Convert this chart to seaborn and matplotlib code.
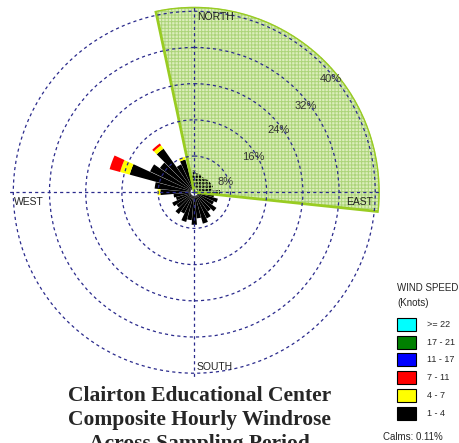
import numpy as np
import matplotlib
matplotlib.use("Agg")
import matplotlib.pyplot as plt
from matplotlib.patches import Rectangle
import seaborn as sns

# wind direction of each petal (degrees from north)
directions = [0, 10, 20, 30, 40, 50, 60, 70, 80, 90, 100, 110,
              120, 130, 140, 150, 160, 170, 180, 190, 200, 210, 220, 230,
              240, 250, 260, 270, 280, 290, 300, 310, 320, 330, 340, 350]

# percent of hours per speed class (knots)
speed_1_4 = [4.0, 3.4, 3.3, 3.0, 3.1, 3.2, 3.3, 3.5, 3.2, 4.9, 3.6, 4.6,
             4.0, 5.2, 4.4, 5.6, 6.4, 5.0, 6.4, 5.4, 6.0, 4.4, 5.1, 4.0,
             4.6, 3.4, 3.8, 6.7, 8.0, 14.0, 10.0, 8.5, 11.0, 6.0, 6.7, 3.0]
speed_4_7 = [0, 0, 0, 0, 0, 0, 0, 0, 0, 0, 0, 0,
             0, 0, 0, 0, 0, 0, 0, 0, 0, 0, 0, 0,
             0, 0, 0, 0.6, 0, 2.2, 0, 0, 0.9, 0, 0.6, 0]
speed_7_11 = [0, 0, 0, 0, 0, 0, 0, 0, 0, 0, 0, 0,
              0, 0, 0, 0, 0, 0, 0, 0, 0, 0, 0, 0,
              0, 0, 0, 0, 0, 2.4, 0, 0, 0.5, 0, 0, 0]

legend_labels = [">= 22", "17 - 21", "11 - 17", "7 - 11", "4 - 7", "1 - 4"]
legend_colors = ["#00ffff", "#008000", "#0000ff", "#ff0000", "#ffff00", "#000000"]

ring_values = [8, 16, 24, 32, 40]
ring_labels = ["8%", "16%", "24%", "32%", "40%"]
calms = "Calms: 0.11%"

# shaded sector (bearing start / end, reach in %)
sector_start = -12
sector_end = 96
sector_reach = 41

title_lines = ["Clairton Educational Center",
               "Composite Hourly Windrose",
               "Across Sampling Period"]

sns.set_theme(style="white")
plt.rcParams['font.family'] = ['Liberation Sans', 'DejaVu Sans']
plt.rcParams['hatch.linewidth'] = 0.7

W, H = 460, 443


def fx(px):
    return px / W


def fy(py):
    return 1 - py / H


fig = plt.figure(figsize=(W / 100, H / 100), dpi=100)
ax = fig.add_axes([0.0191, 0.1473, 0.8065, 0.8375], projection='polar')
ax.set_theta_zero_location('N')
ax.set_theta_direction(-1)
ax.set_ylim(0, sector_reach)

# shaded sector
sec_center = np.deg2rad((sector_start + sector_end) / 2)
sec_width = np.deg2rad(sector_end - sector_start)
ax.bar(sec_center, sector_reach, width=sec_width, bottom=0,
       color='#dcedbb', edgecolor='none', zorder=1)

# petals
theta = np.deg2rad(directions)
bottom = np.full(len(directions), 0.8)
for vals, col in [(speed_1_4, '#000000'), (speed_4_7, '#ffff00'), (speed_7_11, '#ff0000')]:
    vals = np.array(vals)
    ax.bar(theta, vals, width=np.deg2rad(9.5), bottom=bottom,
           color=col, edgecolor='none', zorder=3)
    bottom = bottom + vals

# hatch and outline of the sector over the petals
ax.bar(sec_center, sector_reach, width=sec_width, bottom=0, fill=False,
       hatch='+' * 5, edgecolor='#acd47a', linewidth=0, zorder=4)
ax.bar(sec_center, sector_reach, width=sec_width, bottom=0, fill=False,
       edgecolor='#99cc22', linewidth=2, zorder=5)

# grid
ax.set_xticks(np.deg2rad([0, 90, 180, 270]))
ax.set_xticklabels([])
ax.set_yticks(ring_values)
ax.set_yticklabels([])
ax.spines['polar'].set_visible(False)
ax.grid(True, color='#2a2a8c', linestyle=(0, (2.5, 2.5)), linewidth=0.9)
ax.xaxis.set_zorder(6)
ax.yaxis.set_zorder(6)

label_angles = [72, 58.7, 53.7, 52.2, 50.4]
for v, lab, ang in zip(ring_values, ring_labels, label_angles):
    ax.text(np.deg2rad(ang), v - 0.8, lab, ha='center', va='center',
            fontsize=8, color='#333333', zorder=7)

# compass labels
fig.text(fx(197.5), fy(17.5), "NORTH", ha='left', va='center', fontsize=7.5, color='#222222')
fig.text(fx(373), fy(202), "EAST", ha='right', va='center', fontsize=7.5, color='#222222')
fig.text(fx(14), fy(202), "WEST", ha='left', va='center', fontsize=7.5, color='#222222')
fig.text(fx(197), fy(366.5), "SOUTH", ha='left', va='center', fontsize=7.5, color='#222222')

# legend
fig.text(fx(397), fy(288), "WIND SPEED", ha='left', va='center', fontsize=7)
fig.text(fx(397), fy(303), "(Knots)", ha='left', va='center', fontsize=7)
for i, (lab, col) in enumerate(zip(legend_labels, legend_colors)):
    top = 318 + i * 17.7
    fig.patches.append(Rectangle((fx(397), fy(top + 13)), 19 / W, 13 / H,
                                 transform=fig.transFigure, facecolor=col,
                                 edgecolor='black', linewidth=0.8))
    fig.text(fx(427), fy(top + 6.5), lab, ha='left', va='center', fontsize=6.5)
fig.text(fx(383), fy(437), calms, ha='left', va='center', fontsize=7)

# title (third line runs off the bottom edge, as in the original)
for i, line in enumerate(title_lines):
    fig.text(fx(199.5), fy(401 + i * 24), line, ha='center', va='baseline',
             fontsize=15.5, fontweight='bold', family='Liberation Serif')

fig.savefig('out.png', dpi=100)
